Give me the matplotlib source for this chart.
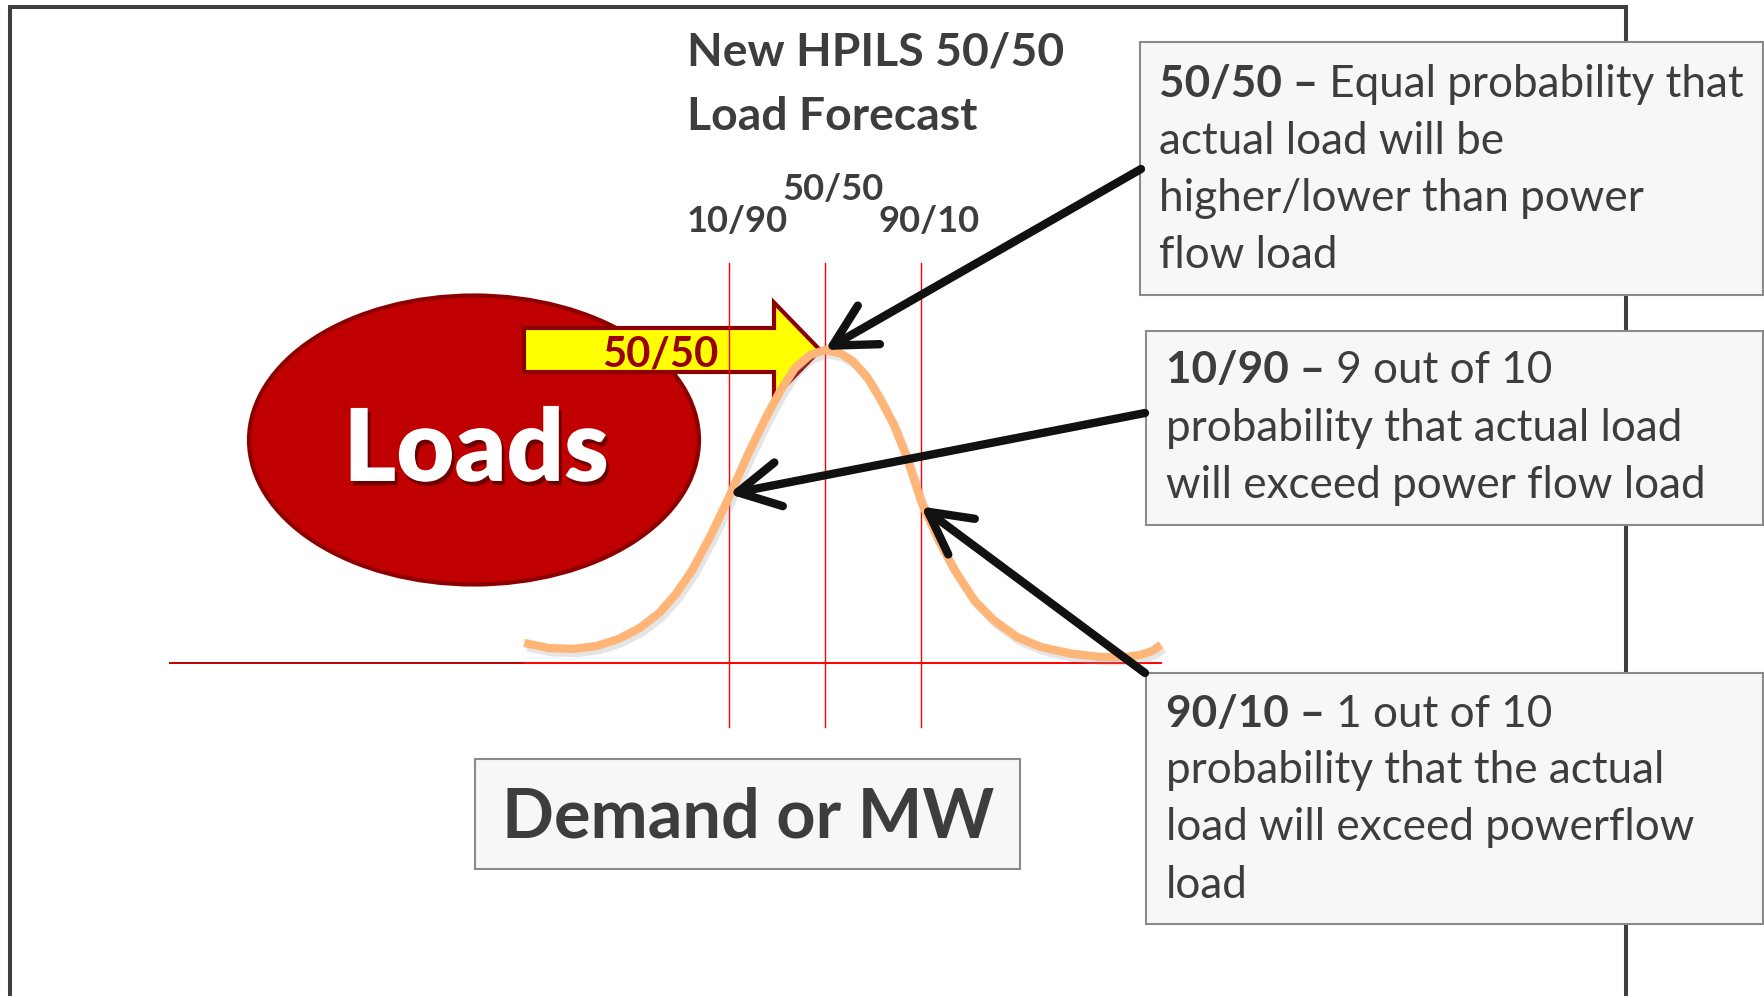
import matplotlib
matplotlib.use("Agg")
import matplotlib.pyplot as plt
from matplotlib.patches import Ellipse, Rectangle, FancyArrow
import matplotlib.patheffects as pe
import matplotlib.transforms as mtrans

# ------------------------------------------------------------------ data
title_lines = ["New HPILS 50/50", "Load Forecast"]
pct_labels = ["10/90", "50/50", "90/10"]
pct_z = [-1.28, 0.0, 1.28]            # positions of the percentile lines (z units)
pct_tip_d = [0.54, 1.0, 0.50]         # curve height where the call-out arrows point

curve_z = [-4.01, -3.69, -3.37, -3.05, -2.75, -2.47, -2.21, -1.99, -1.77, -1.52,
           -1.28, -1.03, -0.79, -0.59, -0.40, -0.20, 0.0, 0.20, 0.37, 0.56, 0.73,
           0.92, 1.09, 1.29, 1.51, 1.72, 1.99, 2.25, 2.56, 2.88, 3.28, 3.68,
           4.01, 4.21, 4.36, 4.48]
curve_d = [0.064, 0.048, 0.045, 0.054, 0.077, 0.112, 0.160, 0.220, 0.297, 0.409,
           0.530, 0.665, 0.783, 0.872, 0.942, 0.984, 1.0, 0.990, 0.965, 0.914, 0.847,
           0.760, 0.658, 0.511, 0.395, 0.300, 0.200, 0.137, 0.083, 0.051, 0.030, 0.019,
           0.019, 0.026, 0.038, 0.058]

box_heads = ["50/50 \u2013", "10/90 \u2013", "90/10 \u2013"]
box_lines = [
    [" Equal probability that", "actual load will be", "higher/lower than power", "flow load"],
    [" 9 out of 10", "probability that actual load", "will exceed power flow load"],
    [" 1 out of 10", "probability that the actual", "load will exceed powerflow", "load"],
]
axis_label = "Demand or MW"
bubble_label = "Loads"
arrow_label = "50/50"

# ------------------------------------------------------------------ figure
W, H = 1764, 996
FONT = ["Lato", "DejaVu Sans"]
TXT = "#3d3d3d"
plt.rcParams["font.family"] = FONT

fig = plt.figure(figsize=(W / 100, H / 100), dpi=100)
ax = fig.add_axes([0, 0, 1, 1])
ax.set_xlim(0, W)
ax.set_ylim(H, 0)
ax.axis("off")

# curve axes: z units horizontally, relative density vertically
ax2 = fig.add_axes([0, 0, 1, 1], zorder=2)
ax2.patch.set_visible(False)
ax2.axis("off")
x0, sx = 825, 75.0
y0, sy = 663, 313.0
ax2.set_xlim(-x0 / sx, (W - x0) / sx)
ax2.set_ylim((y0 - H) / sy, y0 / sy)

fig.canvas.draw()
R = fig.canvas.get_renderer()


def fit(t, target):
    for _ in range(2):
        w = t.get_window_extent(R).width
        t.set_fontsize(t.get_fontsize() * target / w)


# outer frame
ax.plot([10, 10, 1626, 1626], [H + 5, 7, 7, H + 5], color="#3f3f3f", lw=2.9,
        solid_joinstyle="miter", zorder=1)

# text boxes
box_rects = [(1140, 42, 295), (1146, 331, 525), (1146, 673, 924)]
for (bx, by0, by1) in box_rects:
    ax.add_patch(Rectangle((bx, by0), 1763 - bx, by1 - by0, fc="#f7f7f7",
                           ec="#8a8a8a", lw=1.5, zorder=3))
ax.add_patch(Rectangle((475, 759), 545, 110, fc="#f7f7f7", ec="#8a8a8a", lw=1.5, zorder=3))

# box texts
probe = ax.text(0, 0, "will exceed power flow load", fontsize=30, color=TXT)
fit(probe, 539)
fs_box = probe.get_fontsize()
probe.remove()

box_left = [1159, 1166, 1166]
box_base = [[97, 154, 211, 268], [383, 441, 498], [727, 783, 840, 898]]
for head, lines, xl, bases in zip(box_heads, box_lines, box_left, box_base):
    th = ax.text(xl, bases[0], head, fontsize=fs_box, fontweight="bold", color=TXT,
                 va="baseline", ha="left", zorder=4)
    wh = th.get_window_extent(R).width
    ax.text(xl + wh, bases[0], lines[0], fontsize=fs_box, color=TXT,
            va="baseline", ha="left", zorder=4)
    for ln, b in zip(lines[1:], bases[1:]):
        ax.text(xl, b, ln, fontsize=fs_box, color=TXT, va="baseline", ha="left", zorder=4)

# title
t1 = ax.text(687, 65, title_lines[0], fontsize=30, fontweight="bold", color=TXT,
             va="baseline", ha="left", zorder=4)
fit(t1, 377)
ax.text(687, 130, title_lines[1], fontsize=t1.get_fontsize(), fontweight="bold",
        color=TXT, va="baseline", ha="left", zorder=4)

# percentile labels (over each line)
lab_base = [232, 200, 232]
blend = mtrans.blended_transform_factory(ax2.transData, ax.transData)
for lab, z, b in zip(pct_labels, pct_z, lab_base):
    tr = mtrans.offset_copy(blend, fig=fig, x=8, y=0, units="dots")
    t = ax.text(z, b, lab, transform=tr, fontsize=22, fontweight="bold", color=TXT,
                va="baseline", ha="center", zorder=4)
    fit(t, 101)

# Loads bubble
ax.add_patch(Ellipse((474, 440), 450, 289, fc="#c00000", ec="#8c0000", lw=3.0, zorder=3))
tl = ax.text(476, 481, bubble_label, fontsize=70, fontweight="heavy", color="white",
             va="baseline", ha="center", zorder=4,
             path_effects=[pe.SimplePatchShadow(offset=(2, -3), shadow_rgbFace="#3a0000",
                                                alpha=0.6), pe.Normal()])
fit(tl, 265)

# yellow block arrow
ax.add_patch(FancyArrow(524, 350, 296, 0, width=44, head_width=95, head_length=46,
                        length_includes_head=True, fc="#ffff00", ec="#8b0000", lw=3.0,
                        joinstyle="miter", zorder=5))
ta = ax.text(660, 366, arrow_label, fontsize=24, fontweight="bold", color="#990000",
             va="baseline", ha="center", zorder=6)
fit(ta, 116)

# axis lines
ax2.plot([-8.73, curve_z[0]], [0, 0], color="#c00000", lw=1.4, zorder=2)
ax2.plot([curve_z[0], curve_z[-1]], [0, 0], color="#ff0000", lw=1.4, zorder=2)
for z in pct_z:
    ax2.plot([z, z], [(y0 - 263) / sy, (y0 - 727) / sy], color="#ff0000", lw=1.0, zorder=2)

# bell curve
ax2.plot(curve_z, curve_d, color="#ffb578", lw=6.0, solid_capstyle="butt",
         solid_joinstyle="round", zorder=3,
         path_effects=[pe.SimpleLineShadow(offset=(2, -3), shadow_color="#999999", alpha=0.25),
                       pe.Normal()])

# call-out arrows (from boxes to curve points)
starts = [(1145, 413), (1141, 169), (1145, 673)]
for z, d, (sxp, syp) in zip(pct_z, pct_tip_d, starts):
    ax2.annotate("", xy=(z, d), xycoords="data", xytext=(sxp, syp),
                 textcoords=ax.transData,
                 arrowprops=dict(arrowstyle="->,head_length=1.5,head_width=0.8",
                                 color="#111111", lw=6.0, mutation_scale=20,
                                 capstyle="round", joinstyle="round",
                                 shrinkA=0, shrinkB=0),
                 zorder=6)

# axis caption
td = ax.text(748, 837, axis_label, fontsize=40, fontweight="bold", color=TXT,
             va="baseline", ha="center", zorder=4)
fit(td, 491)

fig.savefig("out.png", dpi=100)
